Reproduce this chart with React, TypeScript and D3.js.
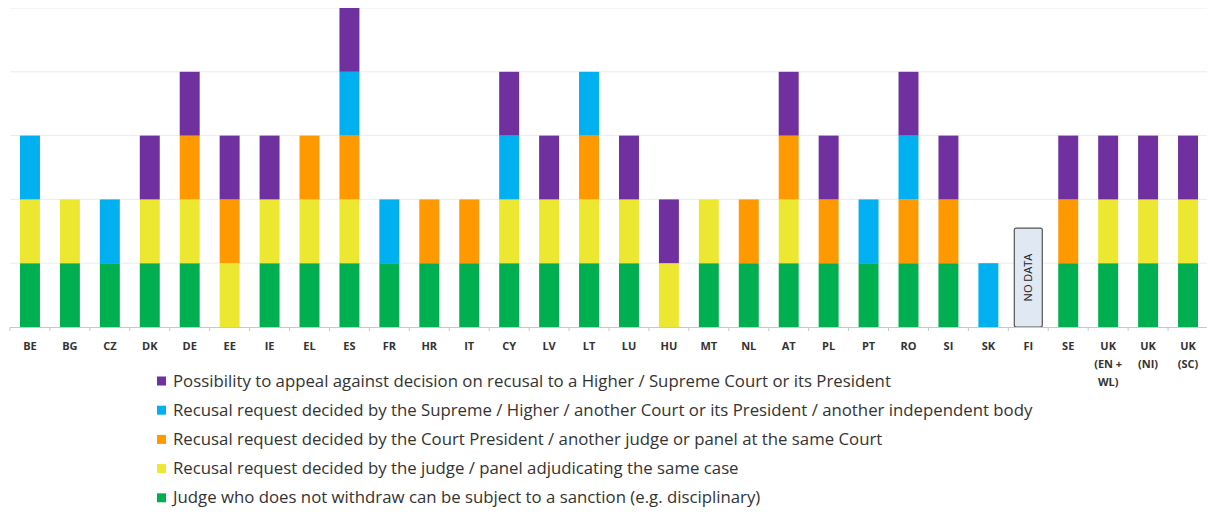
import React from 'react';
import * as d3 from 'd3';

// countries in display order (multi-line labels split with |)
const countries = ['BE', 'BG', 'CZ', 'DK', 'DE', 'EE', 'IE', 'EL', 'ES', 'FR', 'HR', 'IT', 'CY', 'LV', 'LT', 'LU', 'HU', 'MT', 'NL', 'AT', 'PL', 'PT', 'RO', 'SI', 'SK', 'FI', 'SE', 'UK|(EN +|WL)', 'UK|(NI)', 'UK|(SC)'];

// 1 = yes, 0 = no (stacked bottom -> top)
const sanction     = [1, 1, 1, 1, 1, 0, 1, 1, 1, 1, 1, 1, 1, 1, 1, 1, 0, 1, 1, 1, 1, 1, 1, 1, 0, 0, 1, 1, 1, 1];
const byJudge      = [1, 1, 0, 1, 1, 1, 1, 1, 1, 0, 0, 0, 1, 1, 1, 1, 1, 1, 0, 1, 0, 0, 0, 0, 0, 0, 0, 1, 1, 1];
const byPresident  = [0, 0, 0, 0, 1, 1, 0, 1, 1, 0, 1, 1, 0, 0, 1, 0, 0, 0, 1, 1, 1, 0, 1, 1, 0, 0, 1, 0, 0, 0];
const byHigher     = [1, 0, 1, 0, 0, 0, 0, 0, 1, 1, 0, 0, 1, 0, 1, 0, 0, 0, 0, 0, 0, 1, 1, 0, 1, 0, 0, 0, 0, 0];
const appeal       = [0, 0, 0, 1, 1, 1, 1, 0, 1, 0, 0, 0, 1, 1, 0, 1, 1, 0, 0, 1, 1, 0, 1, 1, 0, 0, 1, 1, 1, 1];

const noData = ['FI'];

const seriesKeys = ['sanction', 'byJudge', 'byPresident', 'byHigher', 'appeal'];
const seriesColors = ['#00b050', '#ece831', '#ff9900', '#00b0f0', '#7030a0'];
const seriesLabels = [
  'Judge who does not withdraw can be subject to a sanction (e.g. disciplinary)',
  'Recusal request decided by the judge / panel adjudicating the same case',
  'Recusal request decided by the Court President / another judge or panel at the same Court',
  'Recusal request decided by the Supreme / Higher / another Court or its President / another independent body',
  'Possibility to appeal against decision on recusal to a Higher / Supreme Court or its President',
];
const yTicks = [0, 1, 2, 3, 4, 5];

const W = 1199;
const H = 504;
const left = 2;
const right = 1200;
const top = 0;
const bottom = 319;

export default function App() {
  const rows = countries.map((c, i) => ({
    country: c,
    sanction: sanction[i],
    byJudge: byJudge[i],
    byPresident: byPresident[i],
    byHigher: byHigher[i],
    appeal: appeal[i],
  }));
  const stacked = d3.stack<any>().keys(seriesKeys)(rows);

  const x = d3.scaleBand().domain(countries).range([left, right]).paddingInner(0.5).paddingOuter(0.25);
  const y = d3.scaleLinear().domain([0, 5]).range([bottom, top]);
  const step = x.step();
  const bounds = d3.range(countries.length + 1).map((i) => left + i * step);

  const legendOrder = [4, 3, 2, 1, 0];

  return (
    <svg width={W} height={H} style={{ display: 'block', fontFamily: 'Open Sans, sans-serif' }}>
      {yTicks.slice(1).map((t) => (
        <line key={t} x1={left} x2={right} y1={y(t)} y2={y(t)} stroke="#ececec" strokeWidth={1} />
      ))}
      {stacked.map((s, si) => (
        <g key={s.key} fill={seriesColors[si]}>
          {s.map((d, i) =>
            d[1] > d[0] ? (
              <rect key={i} x={x(countries[i])} width={x.bandwidth()} y={y(d[1])} height={y(d[0]) - y(d[1])} />
            ) : null
          )}
        </g>
      ))}
      {noData.map((c) => {
        const cx = (x(c) as number) + x.bandwidth() / 2;
        return (
          <g key={c}>
            <rect x={cx - 14} y={y(1.55)} width={28} height={y(0) - y(1.55)} rx={2} fill="#dfe8f3" stroke="#555" strokeWidth={1.2} />
            <text transform={`translate(${cx + 4},${(y(1.55) + y(0)) / 2}) rotate(-90)`} textAnchor="middle" fontSize={11} fill="#222">NO DATA</text>
          </g>
        );
      })}
      <line x1={left} x2={right} y1={bottom + 0.5} y2={bottom + 0.5} stroke="#c8c8c8" strokeWidth={1} />
      {bounds.map((bx, i) => (
        <line key={i} x1={bx} x2={bx} y1={bottom} y2={bottom + 4} stroke="#c8c8c8" strokeWidth={1} />
      ))}
      {countries.map((c) => (
        <text key={c} x={(x(c) as number) + x.bandwidth() / 2} y={bottom + 23} textAnchor="middle" fontSize={11} fontWeight="bold" fill="#333">
          {c.split('|').map((part, k) => (
            <tspan key={k} x={(x(c) as number) + x.bandwidth() / 2} dy={k === 0 ? 0 : 18}>{part}</tspan>
          ))}
        </text>
      ))}
      {legendOrder.map((si, k) => (
        <g key={si} transform={`translate(149,${373 + k * 29.2})`}>
          <rect x={0} y={-4.5} width={9} height={9} fill={seriesColors[si]} />
          <text x={16} y={5.5} fontSize={16.8} fill="#333">{seriesLabels[si]}</text>
        </g>
      ))}
    </svg>
  );
}
